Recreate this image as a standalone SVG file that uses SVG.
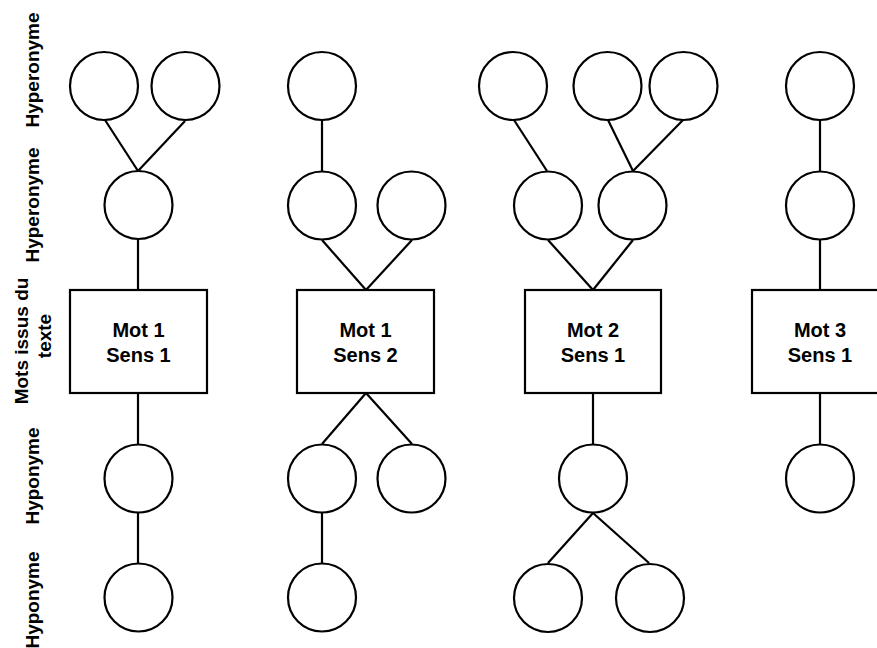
<svg xmlns="http://www.w3.org/2000/svg" width="877" height="648" viewBox="0 0 877 648">
<style>
.n{fill:#fff;stroke:#000;stroke-width:2.2}
.c{stroke:#000;stroke-width:2.2;fill:none}
.t{font-family:"Liberation Sans",Arial,sans-serif;font-weight:bold;font-size:19px;fill:#000;text-anchor:middle}
.b{font-size:20px}
</style>
<rect width="877" height="648" fill="#fff"/>
<g id="labels">
<text class="t" transform="translate(39,70) rotate(-90)">Hyperonyme</text>
<text class="t" transform="translate(39,205) rotate(-90)">Hyperonyme</text>
<text class="t" transform="translate(28,341) rotate(-90)">Mots issus du</text>
<text class="t" transform="translate(51,336) rotate(-90)">texte</text>
<text class="t" transform="translate(39,476) rotate(-90)">Hyponyme</text>
<text class="t" transform="translate(39,600) rotate(-90)">Hyponyme</text>
</g>
<g id="connectors">
<line class="c" x1="105" y1="120" x2="138" y2="171"/>
<line class="c" x1="185" y1="121" x2="138" y2="171"/>
<line class="c" x1="138" y1="239" x2="138" y2="290"/>
<line class="c" x1="138" y1="393" x2="138" y2="444"/>
<line class="c" x1="138" y1="513" x2="138" y2="563"/>
<line class="c" x1="322" y1="120" x2="322" y2="171"/>
<line class="c" x1="322" y1="240" x2="366" y2="290"/>
<line class="c" x1="412" y1="240" x2="366" y2="290"/>
<line class="c" x1="366" y1="393" x2="322" y2="444"/>
<line class="c" x1="366" y1="393" x2="412" y2="444"/>
<line class="c" x1="322" y1="513" x2="322" y2="563"/>
<line class="c" x1="514" y1="120" x2="547" y2="171"/>
<line class="c" x1="608" y1="120" x2="633" y2="171"/>
<line class="c" x1="683" y1="120" x2="633" y2="171"/>
<line class="c" x1="548" y1="240" x2="593" y2="290"/>
<line class="c" x1="633" y1="240" x2="593" y2="290"/>
<line class="c" x1="593" y1="393" x2="593" y2="444"/>
<line class="c" x1="593" y1="513" x2="548" y2="563"/>
<line class="c" x1="593" y1="513" x2="649" y2="563"/>
<line class="c" x1="820" y1="120" x2="820" y2="171"/>
<line class="c" x1="820" y1="239" x2="820" y2="290"/>
<line class="c" x1="820" y1="393" x2="820" y2="444"/>
</g>
<g id="col1-hyper2a"><circle class="n" cx="104" cy="86" r="34"/></g>
<g id="col1-hyper2b"><circle class="n" cx="185.5" cy="86" r="34"/></g>
<g id="col1-hyper1"><circle class="n" cx="138.5" cy="205" r="34"/></g>
<g id="col1-word"><rect class="n" x="70" y="290" width="137" height="103"/><text class="t b" x="138.5" y="337">Mot 1</text><text class="t b" x="138.5" y="362">Sens 1</text></g>
<g id="col1-hypo1"><circle class="n" cx="138.5" cy="478.5" r="34"/></g>
<g id="col1-hypo2"><circle class="n" cx="138.5" cy="597.5" r="34"/></g>
<g id="col2-hyper2"><circle class="n" cx="322" cy="86" r="34"/></g>
<g id="col2-hyper1a"><circle class="n" cx="322" cy="205.5" r="34"/></g>
<g id="col2-hyper1b"><circle class="n" cx="411.5" cy="205.5" r="34"/></g>
<g id="col2-word"><rect class="n" x="297" y="290" width="137" height="103"/><text class="t b" x="365.5" y="337">Mot 1</text><text class="t b" x="365.5" y="362">Sens 2</text></g>
<g id="col2-hypo1a"><circle class="n" cx="322" cy="478.5" r="34"/></g>
<g id="col2-hypo1b"><circle class="n" cx="411.5" cy="478.5" r="34"/></g>
<g id="col2-hypo2"><circle class="n" cx="322" cy="597.5" r="34"/></g>
<g id="col3-hyper2a"><circle class="n" cx="513" cy="86" r="34"/></g>
<g id="col3-hyper2b"><circle class="n" cx="607.5" cy="86" r="34"/></g>
<g id="col3-hyper2c"><circle class="n" cx="683.5" cy="86" r="34"/></g>
<g id="col3-hyper1a"><circle class="n" cx="548" cy="205.5" r="34"/></g>
<g id="col3-hyper1b"><circle class="n" cx="632.5" cy="205.5" r="34"/></g>
<g id="col3-word"><rect class="n" x="525" y="290" width="136" height="103"/><text class="t b" x="593" y="337">Mot 2</text><text class="t b" x="593" y="362">Sens 1</text></g>
<g id="col3-hypo1"><circle class="n" cx="593" cy="478.5" r="34"/></g>
<g id="col3-hypo2a"><circle class="n" cx="548" cy="598" r="34"/></g>
<g id="col3-hypo2b"><circle class="n" cx="650" cy="598" r="34"/></g>
<g id="col4-hyper2"><circle class="n" cx="820" cy="86" r="34"/></g>
<g id="col4-hyper1"><circle class="n" cx="820" cy="205.5" r="34"/></g>
<g id="col4-word"><rect class="n" x="752" y="290" width="137" height="103"/><text class="t b" x="820" y="337">Mot 3</text><text class="t b" x="820" y="362">Sens 1</text></g>
<g id="col4-hypo1"><circle class="n" cx="820" cy="478.5" r="34"/></g>
</svg>
